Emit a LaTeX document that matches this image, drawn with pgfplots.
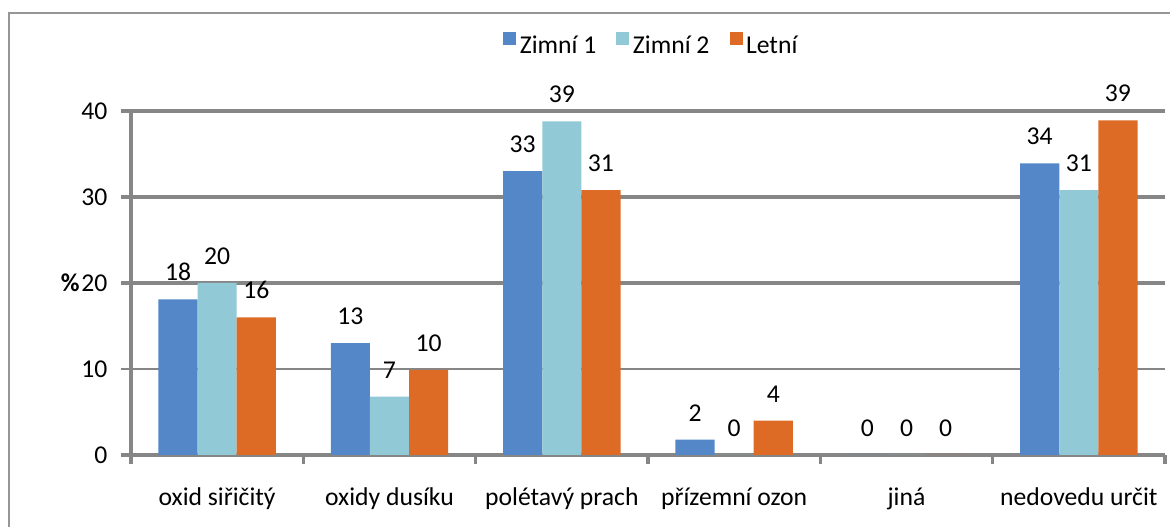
\documentclass[border=0pt]{standalone}
\usepackage{fontspec}
\setmainfont{Carlito}
\usepackage{pgfplots}
\pgfplotsset{compat=1.18}
\definecolor{cA}{RGB}{84,135,200}
\definecolor{cB}{RGB}{146,201,214}
\definecolor{cC}{RGB}{221,107,38}
\definecolor{gridg}{RGB}{134,134,134}
\definecolor{frameg}{RGB}{150,150,150}
\newcommand\lbl{\fontsize{14.6pt}{17pt}\selectfont}
\begin{document}
\begin{tikzpicture}
\path[use as bounding box] (0,0) rectangle (23.4cm,10.54cm);
\draw[frameg, line width=0.6pt] (0.18cm,-0.2cm) -- (0.18cm,10.28cm) -- (23.6cm,10.28cm);
\begin{axis}[
  at={(2.62cm,1.44cm)}, anchor=south west,
  scale only axis, width=20.68cm, height=6.88cm,
  xmin=-0.5, xmax=5.5, ymin=0, ymax=40,
  axis lines*=left,
  axis line style={gridg, line width=2pt},
  ybar, bar width=0.227,
  xtick={-0.5,0.5,1.5,2.5,3.5,4.5,5.5}, xticklabels={},
  extra x ticks={0,1,2,3,4,5},
  extra x tick labels={oxid siřičitý, oxidy dusíku, polétavý prach, přízemní ozon, jiná, nedovedu určit},
  extra x tick style={major tick length=0pt, xticklabel style={anchor=base, yshift=-1.02cm}},
  ytick={0,20,30,40},
  extra y ticks={10},
  extra y tick style={ymajorgrids=true, major grid style={gridg, line width=0.6pt}, major tick style={gridg, line width=0.6pt}},
  ymajorgrids,
  major grid style={gridg, line width=2pt},
  tick align=outside,
  major tick length=0.19cm,
  tick style={gridg, line width=2pt},
  tick label style={font=\lbl, text=black},
  yticklabel style={anchor=east, xshift=-0.16cm},
  /pgf/number format/assume math mode=true,
  ylabel={\bfseries\%},
  ylabel style={rotate=-90, at={(axis description cs:0,0.5)}, anchor=east, inner sep=0pt, xshift=-1.02cm, font=\lbl},
  nodes near coords={\pgfmathprintnumber[fixed,precision=0]{\pgfplotspointmeta}},
  every node near coord/.append style={font=\lbl, inner sep=0pt, anchor=south, yshift=0.36cm, text=black},
  legend style={at={(0.504,1.19)}, anchor=center, draw=none, fill=none, font=\lbl,
    legend columns=3, /tikz/every even column/.append style={column sep=0.33cm}},
  legend image code/.code={\draw[#1,/tikz/.cd,draw=none] (0cm,0.02cm) rectangle (0.26cm,0.28cm);},
]
\addplot[bar shift=-0.227, fill=cA, draw=none] coordinates {(0,18.1) (1,13) (2,33) (3,1.8) (4,0) (5,33.9)};
\addplot[bar shift=0, fill=cB, draw=none] coordinates {(0,20) (1,6.8) (2,38.8) (3,0) (4,0) (5,30.8)};
\addplot[bar shift=0.227, fill=cC, draw=none] coordinates {(0,16) (1,9.9) (2,30.8) (3,4) (4,0) (5,38.9)};
\legend{Zimní 1, Zimní 2, Letní}
\end{axis}
\end{tikzpicture}
\end{document}
